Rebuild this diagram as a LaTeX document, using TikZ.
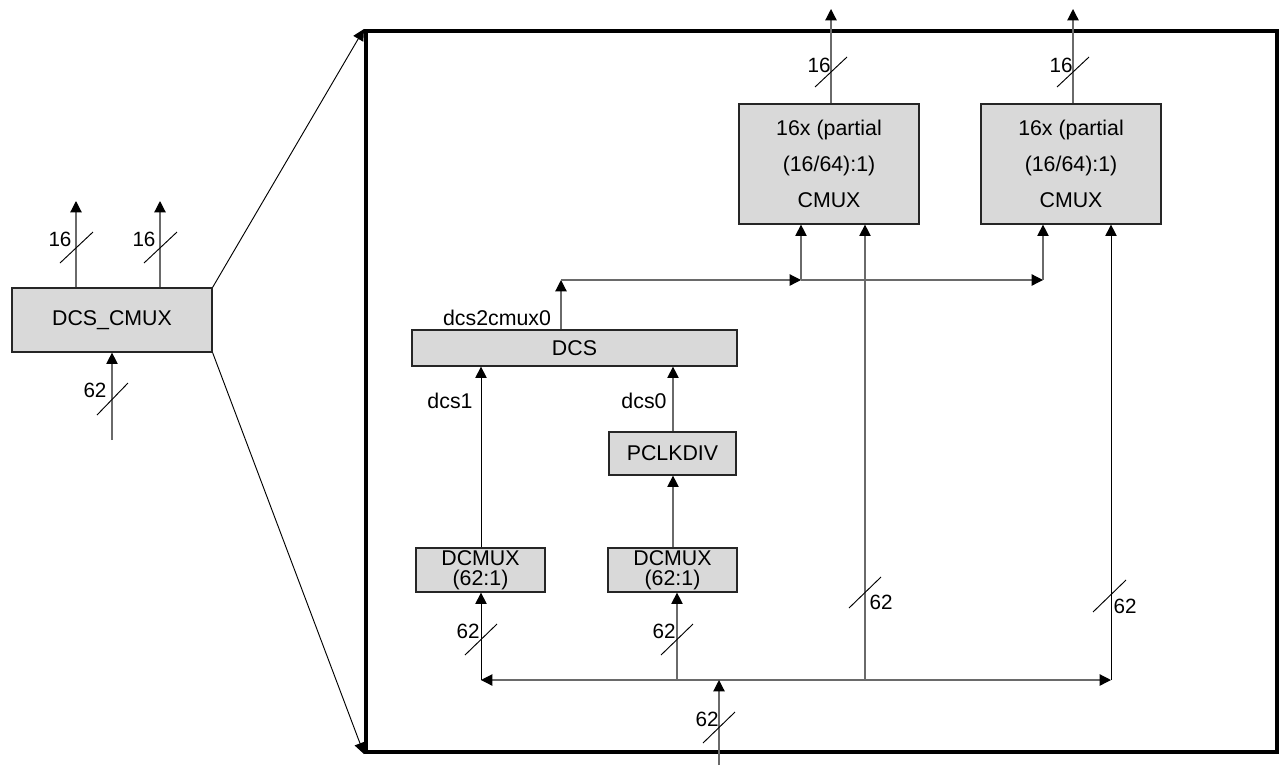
\documentclass[tikz,border=0pt]{standalone}
\usepackage{fontspec}
\setmainfont{Liberation Sans}
\usetikzlibrary{arrows.meta}
\definecolor{boxfill}{HTML}{D9D9D9}
\definecolor{wire}{HTML}{6A6A6A}
\begin{document}
\begin{tikzpicture}[x=0.75pt,y=-0.75pt,
  blk/.style={draw=black!85, fill=boxfill, line width=0.9pt, inner sep=0pt, align=center},
  txt/.style={font=\fontsize{15.5}{17}\selectfont, inner sep=0pt},
  tip/.style={-{Triangle[length=8.5pt,width=8.5pt,color=black]}},
  gw/.style={draw=wire, line width=0.9pt},
  bw/.style={draw=black, line width=0.7pt},
  slash/.style={draw=black, line width=0.7pt}
]
\useasboundingbox (0,0) rectangle (1280,765);

% ---- left block
\node[blk, minimum width=150pt, minimum height=48pt, font=\fontsize{16}{18}\selectfont] (dcscmux) at (112,320) {DCS\_CMUX};
\coordinate (lo1) at (76,201);
\coordinate (lo2) at (160,201);
\coordinate (lin) at (112,440);
\draw[gw,tip] (dcscmux.north -| lo1) -- (lo1);
\draw[gw,tip] (dcscmux.north -| lo2) -- (lo2);
\draw[gw,tip] (lin) -- (dcscmux.south -| lin);
\draw[slash] (60,263) -- (93,232);
\draw[slash] (144,263) -- (177,232);
\draw[slash] (97,415) -- (128,383);
\node[txt] (l16a) at (60,239) {16};
\node[txt] (l16b) at (144,239) {16};
\node[txt] (l62a) at (95,390) {62};

% ---- frame
\node[draw=black, line width=3pt, minimum width=683.25pt, minimum height=540.75pt, inner sep=0pt] (frame) at (821.5,391.5) {};
\draw[bw, tip] (dcscmux.north east) -- (frame.north west);
\draw[bw, tip] (dcscmux.south east) -- (frame.south west);

% ---- CMUX blocks
\node[blk, minimum width=135pt, minimum height=90pt, font=\fontsize{16}{27}\selectfont] (cmuxA) at (829,164) {16x (partial\\(16/64):1)\\CMUX};
\node[blk, minimum width=135pt, minimum height=90pt, font=\fontsize{16}{27}\selectfont] (cmuxB) at (1071,164) {16x (partial\\(16/64):1)\\CMUX};
\coordinate (oA) at (831,9);
\coordinate (oB) at (1073,9);
\draw[gw,tip] (cmuxA.north -| oA) -- (oA);
\draw[gw,tip] (cmuxB.north -| oB) -- (oB);
\draw[slash] (815,87) -- (847,57);
\draw[slash] (1057,87) -- (1089,57);
\node[txt] (c16a) at (819,65) {16};
\node[txt] (c16b) at (1061,65) {16};

% ---- DCS
\node[blk, minimum width=243.75pt, minimum height=27pt, font=\fontsize{16}{18}\selectfont] (dcs) at (574.5,348) {DCS};
\node[blk, minimum width=95.25pt, minimum height=32.25pt, font=\fontsize{16}{18}\selectfont] (pclk) at (672.5,453.5) {PCLKDIV};
\node[blk, minimum width=96.75pt, minimum height=33pt, font=\fontsize{16}{15}\selectfont] (dcmA) at (480.5,570) {DCMUX\\(62:1)};
\node[blk, minimum width=96.75pt, minimum height=33pt, font=\fontsize{16}{15}\selectfont] (dcmB) at (672.5,570) {DCMUX\\(62:1)};

\node[txt, font=\fontsize{16}{18}\selectfont] (ldcs2) at (497,318) {dcs2cmux0};
\node[txt, font=\fontsize{16}{18}\selectfont] (ldcs1) at (450,401) {dcs1};
\node[txt, font=\fontsize{16}{18}\selectfont] (ldcs0) at (644,401) {dcs0};

% upper bus
\coordinate (u0) at (561,280);
\coordinate (u1) at (801,280);
\coordinate (u2) at (1043,280);
\draw[gw,tip] (dcs.north -| u0) -- (u0);
\draw[gw,tip] (u0) -- (u1);
\draw[gw,tip] (u1) -- (u2);
\draw[gw,tip] (u1) -- (cmuxA.south -| u1);
\draw[gw,tip] (u2) -- (cmuxB.south -| u2);

% DCS inputs
\coordinate (xA) at (481,0);
\coordinate (xB) at (673,0);
\draw[bw,tip] (dcmA.north -| xA) -- (dcs.south -| xA);
\draw[gw,tip] (pclk.north -| xB) -- (dcs.south -| xB);
\draw[gw,tip] (dcmB.north -| xB) -- (pclk.south -| xB);

% lower bus
\coordinate (b0) at (481,680);
\coordinate (b1) at (677,680);
\coordinate (bin) at (719,680);
\coordinate (b2) at (865,680);
\coordinate (b3) at (1111,680);
\coordinate (src) at (719,765);
\draw[gw,tip] (b2) -- (b0);
\draw[gw,tip] (b2) -- (b3);
\draw[bw,tip] (b0) -- (dcmA.south -| b0);
\draw[gw,tip] (b1) -- (dcmB.south -| b1);
\draw[gw,tip] (b2) -- (cmuxA.south -| b2);
\draw[bw,tip] (b3) -- (cmuxB.south -| b3);
\draw[gw,tip] (src) -- (bin);

% slashes on 62 lines
\draw[slash] (465,655) -- (497,624);
\draw[slash] (661,655) -- (693,624);
\draw[slash] (849,608) -- (881,577);
\draw[slash] (1093,612) -- (1126,580);
\draw[slash] (703,743) -- (735,712);
\node[txt] (d62a) at (468,631) {62};
\node[txt] (d62b) at (664,631) {62};
\node[txt] (d62c) at (881,602) {62};
\node[txt] (d62d) at (1125,606) {62};
\node[txt] (d62e) at (707,719) {62};
\end{tikzpicture}
\end{document}
